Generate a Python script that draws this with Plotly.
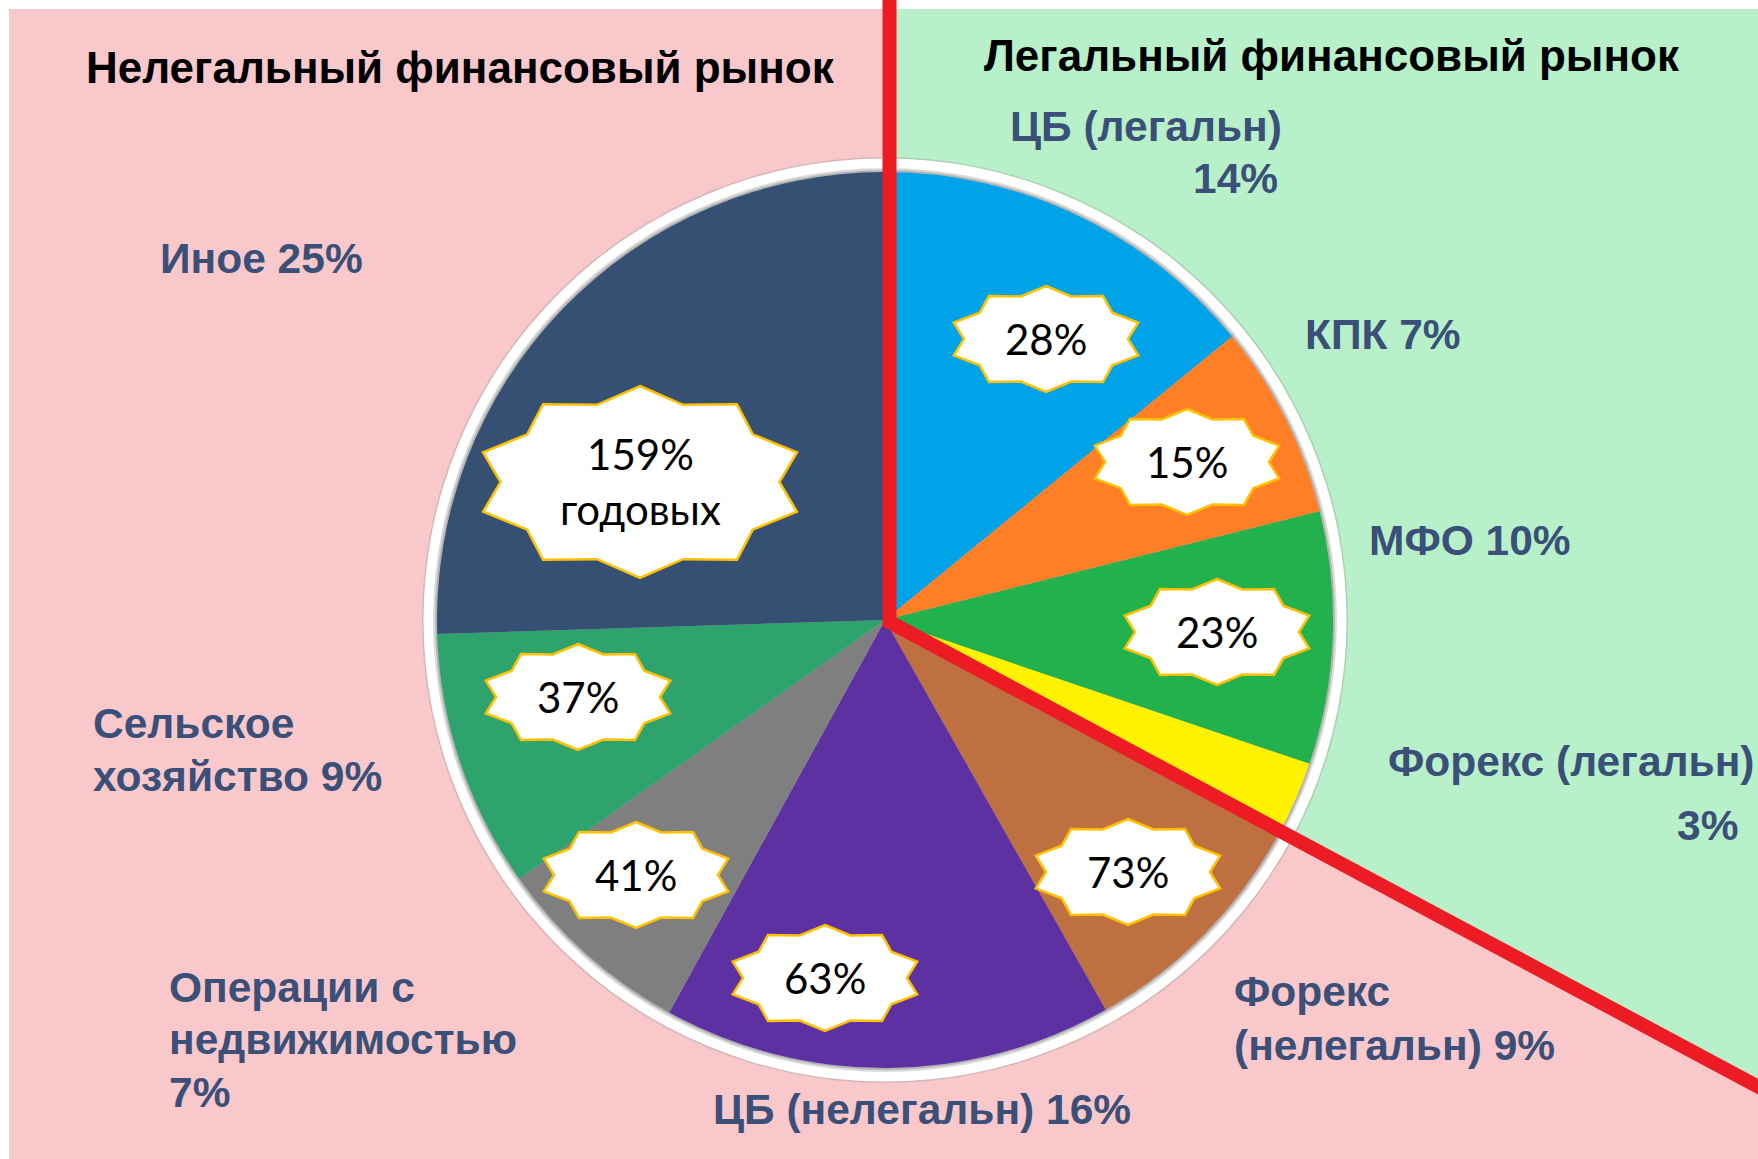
import math
import plotly.graph_objects as go

W, H = 1758, 1159

# ---------------- data ----------------
categories = ["ЦБ (легальн)", "КПК", "МФО", "Форекс (легальн)", "Форекс (нелегальн)",
              "ЦБ (нелегальн)", "Операции с недвижимостью", "Сельское хозяйство", "Иное"]
# shares printed next to each slice, %
share_labels = [14, 7, 10, 3, 9, 16, 7, 9, 25]
# slice sizes, %
slice_sizes = [14.1, 7.0, 9.1, 2.6, 9.0, 16.2, 7.2, 9.3, 25.5]
# rates shown in the star callouts, % (None = no callout)
rates = [28, 15, 23, None, 73, 63, 41, 37, 159]
rate_suffix = ["", "", "", "", "", "", "", "", "<br>годовых"]
# how the category names are broken into lines in the outside labels
label_names = ["ЦБ (легальн)", "КПК", "МФО", "Форекс (легальн)", "Форекс<br>(нелегальн)",
               "ЦБ (нелегальн)", "Операции с<br>недвижимостью", "Сельское<br>хозяйство", "Иное"]
label_sep = ["<br>", " ", " ", "<br>", " ", " ", "<br>", " ", " "]
titles = ["Нелегальный финансовый рынок", "Легальный финансовый рынок"]

# ---------------- styles / layout ----------------
colors = ["#00A2E8", "#FF7F27", "#22B14C", "#FFF200", "#BF7040",
          "#5E31A2", "#7F7F7F", "#2FA36D", "#355072"]
PINK = "#F9C8CA"
GREEN = "#B8F0C9"
RED = "#ED1C24"
LABEL_COLOR = "#3A5078"
STAR_EDGE = "#FFC000"

CX, CY, R = 885, 620, 448          # pie centre / radius, px
CORNER = (889.5, 622)               # where the divider turns
SLOPE = 0.535                       # divider slope (px down per px right)
BORDER = 9

# outside label placement: x per line, xanchor, first-line centre y, line spacing
label_pos = [
    ([1284, 1280], "right", 127, 52),
    ([1303], "left", 335, 52),
    ([1367], "left", 541, 52),
    ([1757, 1740], "right", 761, 64),
    ([1232, 1232], "left", 991, 54),
    ([711], "left", 1109, 52),
    ([167, 167, 167], "left", 987, 52.5),
    ([91, 91], "left", 723, 53),
    ([158], "left", 258, 52),
]
title_pos = [(460, 67), (1332, 55)]
# star callout centres (px) and half sizes
star_pos = [(1046, 339), (1187, 462), (1217, 632), None, (1128, 872),
            (825, 978), (636, 875), (578, 697), (640, 482)]
star_size = [(97, 53)] * 8 + [(165, 96)]


def fx(x):
    return x / W


def fy(y):
    return 1 - y / H


def star_path(cx, cy, a, b, n=10, k=0.845):
    pts = []
    for i in range(2 * n):
        th = math.pi * i / n
        f = 1.0 if i % 2 == 0 else k
        pts.append((fx(cx + a * f * math.sin(th)), fy(cy - b * f * math.cos(th))))
    return "M " + " L ".join(f"{x:.6f},{y:.6f}" for x, y in pts) + " Z"


def circle(r, fill, layer="below"):
    return dict(type="circle", xref="paper", yref="paper", layer=layer,
                x0=fx(CX - r), x1=fx(CX + r), y0=fy(CY + r), y1=fy(CY - r),
                fillcolor=fill, line=dict(width=0))


shapes = []
# background regions
shapes.append(dict(type="rect", xref="paper", yref="paper", layer="below",
                   x0=fx(BORDER), x1=1, y0=0, y1=fy(BORDER),
                   fillcolor=PINK, line=dict(width=0)))
end_y = CORNER[1] + SLOPE * (W - CORNER[0])
green_path = (f"M {fx(CORNER[0])},{fy(BORDER)} L 1,{fy(BORDER)} L 1,{fy(end_y)} "
              f"L {fx(CORNER[0])},{fy(CORNER[1])} Z")
shapes.append(dict(type="path", xref="paper", yref="paper", layer="below",
                   path=green_path, fillcolor=GREEN, line=dict(width=0)))
# white rim with soft shadow round the pie
shapes.append(circle(R + 15, "rgba(150,150,150,0.35)"))
shapes.append(circle(R + 13.5, "white"))
shapes.append(circle(R + 4, "rgba(215,215,215,0.9)"))
shapes.append(circle(R + 2, "rgba(175,175,175,0.9)"))

# red divider
far_x = W + 40
far_y = CORNER[1] + SLOPE * (far_x - CORNER[0])
red_path = (f"M {fx(CORNER[0])},{fy(0)} L {fx(CORNER[0])},{fy(CORNER[1])} "
            f"L {fx(far_x)},{fy(far_y)}")
shapes.append(dict(type="path", xref="paper", yref="paper", layer="above",
                   path=red_path, line=dict(color=RED, width=14)))

annotations = []
# star callouts
for rate, suf, pos, (a, b) in zip(rates, rate_suffix, star_pos, star_size):
    if rate is None or pos is None:
        continue
    shapes.append(dict(type="path", xref="paper", yref="paper", layer="above",
                       path=star_path(pos[0], pos[1], a, b),
                       fillcolor="white", line=dict(color=STAR_EDGE, width=2.5)))
    annotations.append(dict(x=fx(pos[0]), y=fy(pos[1]), xref="paper", yref="paper",
                            text=f"{rate}%{suf}", showarrow=False,
                            xanchor="center", yanchor="middle",
                            font=dict(family="Lato, Carlito, sans-serif", size=42, color="black")))

# outside labels
for name, sep, val, (xs, xa, y0, dy) in zip(label_names, label_sep, share_labels, label_pos):
    text = f"{name}{sep}{val}%"
    for i, line in enumerate(text.split("<br>")):
        x = xs[min(i, len(xs) - 1)]
        annotations.append(dict(x=fx(x), y=fy(y0 + i * dy), xref="paper", yref="paper",
                                text=line, showarrow=False, xanchor=xa, yanchor="middle",
                                font=dict(family="Liberation Sans, Arial, sans-serif",
                                          size=42.5, color=LABEL_COLOR, weight="bold")))

# titles
for t, (x, y) in zip(titles, title_pos):
    annotations.append(dict(x=fx(x), y=fy(y), xref="paper", yref="paper", text=t,
                            showarrow=False, xanchor="center", yanchor="middle",
                            font=dict(family="Liberation Sans, Arial, sans-serif",
                                      size=44, color="black", weight="bold")))

fig = go.Figure(go.Pie(
    labels=categories, values=slice_sizes, sort=False, direction="clockwise",
    rotation=0, textinfo="none", hoverinfo="label+percent",
    marker=dict(colors=colors, line=dict(width=0)),
    domain=dict(x=[fx(CX - R), fx(CX + R)], y=[fy(CY + R), fy(CY - R)]),
    showlegend=False,
))

fig.update_layout(
    width=W, height=H, autosize=False,
    margin=dict(l=0, r=0, t=0, b=0, pad=0),
    paper_bgcolor="white", plot_bgcolor="white",
    shapes=shapes, annotations=annotations, showlegend=False,
)

fig.write_html("out.html", include_plotlyjs=True, config={"displayModeBar": False})
